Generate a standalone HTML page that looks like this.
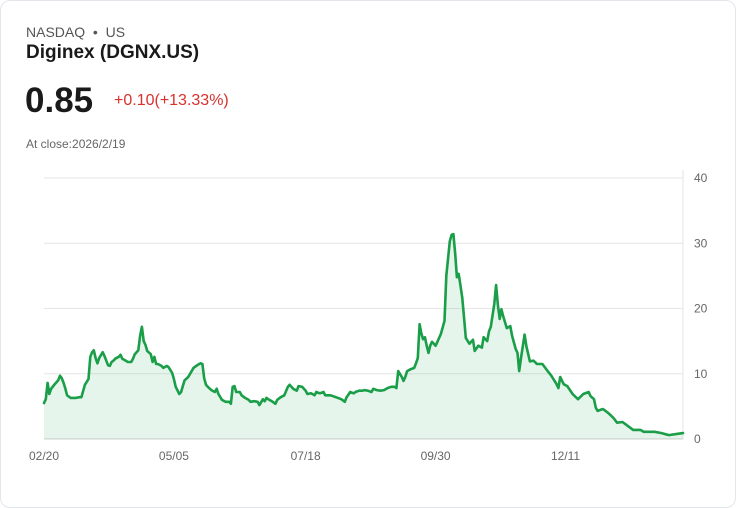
<!DOCTYPE html>
<html><head><meta charset="utf-8"><style>
body{margin:0;background:#fff;font-family:"Liberation Sans",sans-serif;}
.card{position:absolute;left:0;top:0;width:734px;height:506px;border:1px solid #e3e6ea;border-radius:10px;background:#fff;}
.t{position:absolute;white-space:nowrap;}
</style></head><body>
<div class="card">
<div class="t" style="left:25px;top:23px;font-size:14px;color:#555;">NASDAQ &nbsp;•&nbsp; US</div>
<div class="t" style="left:25px;top:41px;font-size:19px;font-weight:bold;color:#1a1a1a;">Diginex (DGNX.US)</div>
<div class="t" style="left:24px;top:80px;font-size:35px;font-weight:bold;color:#1a1a1a;">0.85</div>
<div class="t" style="left:113px;top:91px;font-size:16px;color:#d9302c;">+0.10(+13.33%)</div>
<div class="t" style="left:25px;top:136px;font-size:12px;color:#666;">At close:2026/2/19</div>
<svg id="chart" width="736" height="508" style="position:absolute;left:-1px;top:-1px;"></svg>
</div>
<script>
const days=[0,1,2,3,4,6,7,8,9,10,11,12,13,15,16,18,20,21,23,25,26,27,28,29,30,31,33,34,35,36,37,38,39,40,42,43,44,46,47,49,50,51,53,54,55,56,57,58,60,61,62,63,64,66,67,69,70,72,73,74,76,77,78,79,81,83,84,86,88,89,90,91,92,94,96,97,98,100,102,104,105,106,107,108,110,111,113,115,116,118,120,121,123,124,125,126,128,130,131,133,135,137,138,140,142,143,145,147,148,150,152,153,155,157,158,161,164,167,169,170,172,174,175,177,179,180,182,184,185,187,189,191,193,195,197,198,199,201,202,203,204,206,208,209,210,211,212,213,214,215,216,217,218,220,221,223,225,226,228,229,230,231,232,233,234,235,236,237,239,241,242,244,246,247,249,250,251,253,254,255,256,257,258,260,262,263,265,266,267,268,270,271,273,275,277,280,283,285,288,289,290,292,294,297,300,303,306,307,309,310,311,314,317,320,322,325,328,331,335,337,343,347,351,356,359];
const prices=[5.5,6.1,8.6,6.9,7.7,8.4,8.7,9.0,9.7,9.3,8.6,7.7,6.7,6.3,6.3,6.3,6.4,6.4,8.3,9.2,12.6,13.3,13.6,12.4,11.6,12.4,13.3,12.7,12.0,11.3,11.2,11.8,12.0,12.3,12.6,12.9,12.3,12.0,11.8,11.8,12.3,13.0,13.6,15.8,17.2,15.0,14.4,13.5,13.0,11.8,12.6,11.5,11.5,11.2,10.9,11.2,11.0,10.1,9.2,8.0,6.9,7.2,8.1,9.0,9.5,10.4,10.9,11.3,11.6,11.5,9.3,8.3,8.0,7.5,7.2,7.7,6.9,6.0,5.7,5.7,5.4,8.0,8.1,7.2,7.2,6.7,6.3,6.0,5.7,5.8,5.7,5.2,6.1,5.8,6.3,6.1,5.8,5.4,6.0,6.4,6.7,8.0,8.3,7.7,7.4,8.1,8.0,7.4,6.9,7.0,6.7,7.2,7.0,7.2,6.7,6.7,6.4,6.1,5.7,6.4,7.2,7.0,7.2,7.4,7.4,7.5,7.4,7.2,7.7,7.5,7.4,7.5,7.8,8.0,8.0,7.8,10.4,9.5,8.9,9.5,10.4,10.7,10.9,11.6,12.4,17.6,16.2,15.3,15.6,14.3,13.2,14.3,14.9,14.3,14.9,16.1,18.1,25.0,30.3,31.3,31.4,28.4,24.8,25.3,23.5,21.6,18.5,15.5,14.6,15.2,13.5,14.3,14.0,15.6,15.0,16.5,17.2,20.7,23.6,20.5,18.4,19.9,18.8,17.0,17.3,15.8,13.8,13.2,10.4,12.4,16.0,14.2,11.9,12.0,11.5,11.5,10.4,9.7,8.4,7.8,9.5,8.4,8.1,6.9,6.1,6.9,7.2,6.6,6.1,4.8,4.3,4.6,4.0,3.2,2.5,2.6,2.0,1.4,1.4,1.1,1.1,0.9,0.6,0.8,0.9];
const yTicks=[0,10,20,30,40];
const xTickDays=[0,73,147,220,293];
const xTickLabels=["02/20","05/05","07/18","09/30","12/11"];
const NS="http://www.w3.org/2000/svg";
const svg=document.getElementById('chart');
const X0=44,X1=683,Y0=439,Y1=178,DMAX=359,VMAX=40;
const xs=d=>X0+(d/DMAX)*(X1-X0);
const ys=v=>Y0-(v/VMAX)*(Y0-Y1);
function mk(t,a){const e=document.createElementNS(NS,t);for(const k in a)e.setAttribute(k,a[k]);svg.appendChild(e);return e;}
yTicks.forEach(v=>{
 const l=mk('line',{x1:X0,x2:X1,y1:ys(v),y2:ys(v),stroke:v===0?'#d0d0d0':'#e6e6e6','stroke-width':1});
 
 
 const t=mk('text',{x:X1+11,y:ys(v)+4,'font-size':12,fill:'#666','font-family':'Liberation Sans, sans-serif'});
 t.textContent=v;
 
 
});
const ax=mk('line',{x1:X1,x2:X1,y1:170,y2:Y0,stroke:'#e6e6e6','stroke-width':1});


xTickDays.forEach((d,i)=>{
 const t=mk('text',{x:xs(d),y:460,'font-size':12,fill:'#666','text-anchor':'middle','font-family':'Liberation Sans, sans-serif'});
 t.textContent=xTickLabels[i];
 
 
});
let p='';
days.forEach((d,i)=>{p+=(i?'L':'M')+xs(d).toFixed(1)+','+ys(prices[i]).toFixed(1);});
const area=mk('path',{d:p+'L'+xs(days[days.length-1])+','+Y0+'L'+xs(days[0])+','+Y0+'Z',fill:'rgba(22,163,74,0.11)'});


const line=mk('path',{d:p,fill:'none',stroke:'#1a9e48','stroke-width':2.6,'stroke-linejoin':'round','stroke-linecap':'round'});


</script>
</body></html>
